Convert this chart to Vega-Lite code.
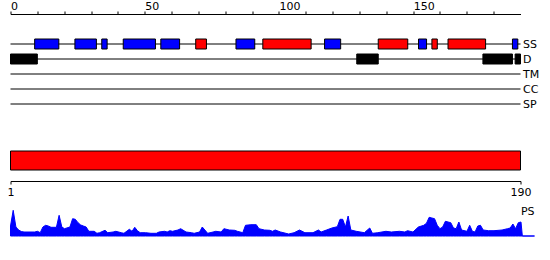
{
  "$schema": "https://vega.github.io/schema/vega-lite/v6.json",
  "padding": {"left": 6.5, "top": 0, "right": 0, "bottom": 0},
  "background": "white",
  "config": {
    "view": {"stroke": null},
    "font": "DejaVu Sans",
    "axis": {"labelFont": "DejaVu Sans", "labelFontSize": 11, "labelColor": "black", "domainColor": "black", "tickColor": "black", "grid": false, "domain": true, "ticks": true, "domainWidth": 1, "tickWidth": 1}
  },
  "datasets": {
    "tracks": [
      {"track": "SS", "start": 0, "end": 190},
      {"track": "D", "start": 0, "end": 190},
      {"track": "TM", "start": 0, "end": 190},
      {"track": "CC", "start": 0, "end": 190},
      {"track": "SP", "start": 0, "end": 190}
    ],
    "features": [
      {"track": "SS", "type": "strand", "start": 9, "end": 18},
      {"track": "SS", "type": "strand", "start": 24, "end": 32},
      {"track": "SS", "type": "strand", "start": 34, "end": 36},
      {"track": "SS", "type": "strand", "start": 42, "end": 54},
      {"track": "SS", "type": "strand", "start": 56, "end": 63},
      {"track": "SS", "type": "helix", "start": 69, "end": 73},
      {"track": "SS", "type": "strand", "start": 84, "end": 91},
      {"track": "SS", "type": "helix", "start": 94, "end": 112},
      {"track": "SS", "type": "strand", "start": 117, "end": 123},
      {"track": "SS", "type": "helix", "start": 137, "end": 148},
      {"track": "SS", "type": "strand", "start": 152, "end": 155},
      {"track": "SS", "type": "helix", "start": 157, "end": 159},
      {"track": "SS", "type": "helix", "start": 163, "end": 177},
      {"track": "SS", "type": "strand", "start": 187, "end": 189},
      {"track": "D", "type": "disorder", "start": 0, "end": 10},
      {"track": "D", "type": "disorder", "start": 129, "end": 137},
      {"track": "D", "type": "disorder", "start": 176, "end": 187},
      {"track": "D", "type": "disorder", "start": 188, "end": 190}
    ],
    "chain": [{"start": 1, "end": 190}],
    "ps": [
      {"pos": 1, "score": 10}, {"pos": 2, "score": 25.7}, {"pos": 3, "score": 9}, {"pos": 4, "score": 6},
      {"pos": 5, "score": 4.5}, {"pos": 6, "score": 4}, {"pos": 10, "score": 4}, {"pos": 11, "score": 4.7},
      {"pos": 12, "score": 3.3}, {"pos": 13, "score": 9}, {"pos": 14, "score": 10.7}, {"pos": 15, "score": 10},
      {"pos": 16, "score": 8.7}, {"pos": 18, "score": 8.7}, {"pos": 19, "score": 20.7}, {"pos": 20, "score": 9},
      {"pos": 21, "score": 7.3}, {"pos": 23, "score": 9}, {"pos": 24, "score": 17.3}, {"pos": 25, "score": 16.7},
      {"pos": 26, "score": 13.3}, {"pos": 27, "score": 11}, {"pos": 28, "score": 10}, {"pos": 29, "score": 9},
      {"pos": 30, "score": 4.7}, {"pos": 32, "score": 4.7}, {"pos": 33, "score": 2.7}, {"pos": 34, "score": 3.3},
      {"pos": 36, "score": 5.7}, {"pos": 37, "score": 3.3}, {"pos": 39, "score": 4}, {"pos": 40, "score": 4.7},
      {"pos": 42, "score": 3.3}, {"pos": 43, "score": 2.7}, {"pos": 45, "score": 6.7}, {"pos": 46, "score": 4.7},
      {"pos": 47, "score": 8.7}, {"pos": 48, "score": 5.3}, {"pos": 49, "score": 3.3}, {"pos": 51, "score": 3.3},
      {"pos": 53, "score": 2.7}, {"pos": 55, "score": 2.7}, {"pos": 56, "score": 4}, {"pos": 58, "score": 4.7},
      {"pos": 59, "score": 4}, {"pos": 60, "score": 5.3}, {"pos": 61, "score": 4.7}, {"pos": 63, "score": 6},
      {"pos": 64, "score": 7.3}, {"pos": 66, "score": 4}, {"pos": 68, "score": 3.3}, {"pos": 69, "score": 2.7},
      {"pos": 71, "score": 4}, {"pos": 72, "score": 9}, {"pos": 74, "score": 2.7}, {"pos": 76, "score": 4},
      {"pos": 77, "score": 4.7}, {"pos": 79, "score": 4}, {"pos": 80, "score": 7.3}, {"pos": 82, "score": 6},
      {"pos": 84, "score": 5.7}, {"pos": 85, "score": 4.7}, {"pos": 87, "score": 3.3}, {"pos": 88, "score": 10.7},
      {"pos": 90, "score": 11.3}, {"pos": 92, "score": 11.3}, {"pos": 93, "score": 7.3}, {"pos": 95, "score": 6},
      {"pos": 97, "score": 5.7}, {"pos": 98, "score": 4.7}, {"pos": 99, "score": 6}, {"pos": 101, "score": 4},
      {"pos": 104, "score": 2}, {"pos": 106, "score": 3.3}, {"pos": 108, "score": 6}, {"pos": 110, "score": 3.3},
      {"pos": 113, "score": 3.3}, {"pos": 115, "score": 6}, {"pos": 116, "score": 4}, {"pos": 118, "score": 6},
      {"pos": 120, "score": 8}, {"pos": 122, "score": 9.3}, {"pos": 123, "score": 16.7}, {"pos": 124, "score": 16.7},
      {"pos": 125, "score": 9}, {"pos": 126, "score": 20}, {"pos": 127, "score": 6}, {"pos": 129, "score": 4.7},
      {"pos": 132, "score": 3.3}, {"pos": 134, "score": 8}, {"pos": 135, "score": 2.7}, {"pos": 137, "score": 3.3},
      {"pos": 140, "score": 4.7}, {"pos": 142, "score": 4}, {"pos": 145, "score": 4.7}, {"pos": 147, "score": 4},
      {"pos": 148, "score": 5.3}, {"pos": 150, "score": 4}, {"pos": 152, "score": 9}, {"pos": 154, "score": 10.7},
      {"pos": 155, "score": 12.7}, {"pos": 156, "score": 18.7}, {"pos": 157, "score": 18}, {"pos": 158, "score": 17.3},
      {"pos": 159, "score": 10.7}, {"pos": 160, "score": 7.3}, {"pos": 161, "score": 9}, {"pos": 162, "score": 14.7},
      {"pos": 163, "score": 14}, {"pos": 164, "score": 13.3}, {"pos": 165, "score": 8}, {"pos": 166, "score": 7.3},
      {"pos": 167, "score": 14}, {"pos": 168, "score": 6}, {"pos": 170, "score": 4.7}, {"pos": 171, "score": 10.7},
      {"pos": 172, "score": 4.7}, {"pos": 173, "score": 4}, {"pos": 174, "score": 10}, {"pos": 175, "score": 10.7},
      {"pos": 176, "score": 6}, {"pos": 178, "score": 5.3}, {"pos": 180, "score": 5.3}, {"pos": 183, "score": 6},
      {"pos": 185, "score": 7.3}, {"pos": 186, "score": 8}, {"pos": 187, "score": 12}, {"pos": 188, "score": 7.3},
      {"pos": 189, "score": 13.3}, {"pos": 190, "score": 14}, {"pos": 190.5, "score": 0}, {"pos": 195, "score": 0}
    ]
  },
  "spacing": 16,
  "vconcat": [
    {
      "width": 510,
      "height": 120,
      "layer": [
        {
          "data": {"name": "tracks"},
          "mark": {"type": "rule", "color": "black", "strokeWidth": 1},
          "encoding": {
            "x": {
              "field": "start", "type": "quantitative", "title": null,
              "scale": {"domain": [0, 190], "nice": false, "zero": false},
              "axis": {
                "orient": "top",
                "values": [0, 10, 20, 30, 40, 50, 60, 70, 80, 90, 100, 110, 120, 130, 140, 150, 160, 170, 180],
                "tickCount": 100,
                "tickSize": 3, "labelAlign": "left", "labelPadding": 0, "labelFlush": false, "labelOverlap": false,
                "domain": true, "ticks": true,
                "labelExpr": "datum.value % 50 === 0 ? datum.label : ''"
              }
            },
            "x2": {"field": "end"},
            "y": {
              "field": "track", "type": "nominal", "title": null,
              "scale": {"type": "point", "domain": ["SS", "D", "TM", "CC", "SP"], "range": [30, 90], "padding": 0},
              "axis": {"orient": "right", "domain": false, "ticks": false, "labelPadding": 2, "labelAlign": "left", "labelBaseline": "middle"}
            }
          }
        },
        {
          "data": {"name": "features"},
          "mark": {"type": "bar", "size": 10, "stroke": "black", "strokeWidth": 1},
          "encoding": {
            "x": {"field": "start", "type": "quantitative"},
            "x2": {"field": "end"},
            "y": {"field": "track", "type": "nominal"},
            "color": {
              "field": "type", "type": "nominal", "legend": null,
              "scale": {"domain": ["helix", "strand", "disorder"], "range": ["#ff0000", "#0000ff", "#000000"]}
            }
          }
        }
      ]
    },
    {
      "spacing": 8,
      "vconcat": [
        {
          "width": 510,
          "height": 19,
          "data": {"name": "chain"},
          "mark": {"type": "rect", "fill": "#ff0000", "stroke": "black", "strokeWidth": 1},
          "encoding": {
            "x": {
              "field": "start", "type": "quantitative", "title": null,
              "scale": {"domain": [1, 190], "nice": false, "zero": false},
              "axis": {"values": [1, 190], "tickSize": 3, "offset": 11, "labelPadding": 2, "labelFlush": false}
            },
            "x2": {"field": "end"}
          }
        },
        {
          "width": 524,
          "height": 26,
          "layer": [
            {
              "data": {"name": "ps"},
              "mark": {"type": "area", "color": "#0000ff", "stroke": "#0000ff", "strokeWidth": 1},
              "encoding": {
                "x": {"field": "pos", "type": "quantitative", "axis": null, "scale": {"domain": [1, 195], "nice": false, "zero": false}},
                "y": {"field": "score", "type": "quantitative", "axis": null, "scale": {"domain": [0, 26], "nice": false}}
              }
            },
            {
              "data": {"values": [{"label": "PS"}]},
              "mark": {"type": "text", "align": "right", "baseline": "middle", "fontSize": 11, "color": "black"},
              "encoding": {
                "text": {"field": "label"},
                "x": {"datum": 195},
                "y": {"datum": 24}
              }
            }
          ]
        }
      ],
      "resolve": {"scale": {"x": "independent", "y": "independent"}}
    }
  ],
  "resolve": {"scale": {"x": "independent", "y": "independent", "color": "independent"}}
}
